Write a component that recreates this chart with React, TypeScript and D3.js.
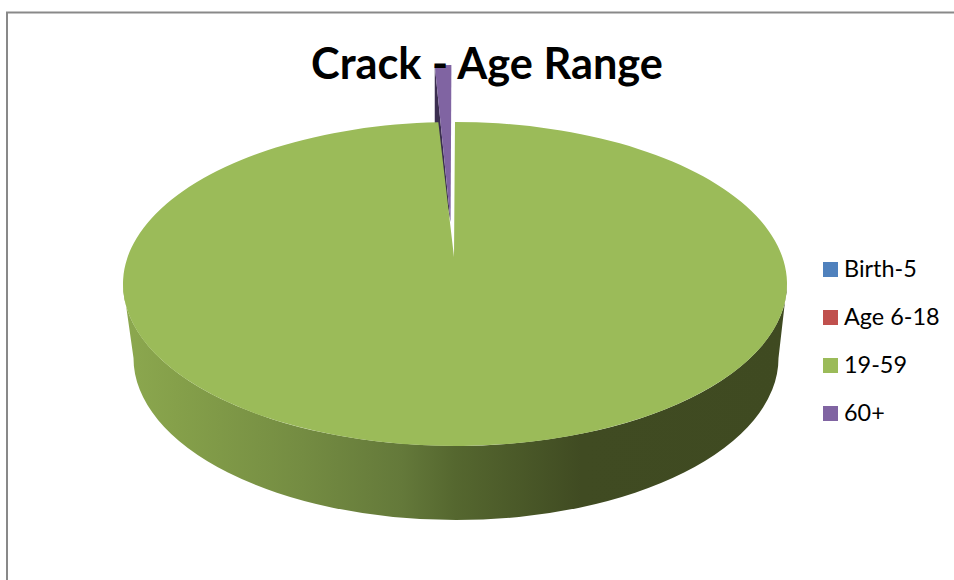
import React from "react";
import * as d3 from "d3";

const categories = ["Birth-5", "Age 6-18", "19-59", "60+"];
const values = [0, 0, 99.2, 0.8];
const colors = ["#4f81bd", "#c0504d", "#9bbb59", "#8064a2"];
const wallStops: [number, string][] = [
  [0, "#8ca84f"],
  [0.08, "#85a04a"],
  [0.27, "#748c42"],
  [0.42, "#64793a"],
  [0.5, "#55672f"],
  [0.69, "#404b22"],
  [1, "#3f4a21"],
];

const W = 954;
const H = 580;
const cx = 455;
const cy = 284;
const rx = 332;
const ry = 162;
const apex: [number, number] = [454, 257];
const bottomCx = 456;
const bottomCy = 358;
const bottomRx = 322.5;
const purpleDx = -3.6;
const purpleDy = -57;
const purpleApex: [number, number] = [450.6, 222];
const wallDepth = 74;
const legendX = 823;
const legendY = d3.scaleLinear().domain([0, 3]).range([262, 406]);

const pt = (a: number, dx = 0, dy = 0): [number, number] => [
  cx + rx * Math.sin(a) + dx,
  cy - ry * Math.cos(a) + dy,
];

export default function App() {
  const arcs = d3
    .pie<number>()
    .sort(null)
    .startAngle(0)
    .endAngle(2 * Math.PI)(values);
  const green = arcs[2];
  const purple = arcs[3];

  const g0 = pt(green.startAngle);
  const g1 = pt(green.endAngle);
  const greenPath = `M${apex[0]},${apex[1]}L${g0[0]},${g0[1]}A${rx},${ry} 0 1 1 ${g1[0]},${g1[1]}Z`;
  const sidePath = `M${cx - rx},${cy}L${bottomCx - bottomRx},${bottomCy}A${bottomRx},${ry} 0 0 0 ${bottomCx + bottomRx},${bottomCy}L${cx + rx},${cy}A${rx},${ry} 0 0 1 ${cx - rx},${cy}Z`;

  const p0 = pt(purple.startAngle, purpleDx, purpleDy);
  const p1 = pt(purple.endAngle, purpleDx, purpleDy);
  const purpleTop = `M${purpleApex[0]},${purpleApex[1]}L${p0[0]},${p0[1]}A${rx},${ry} 0 0 1 ${p1[0]},${p1[1]}Z`;
  const purpleWall = `M${p0[0]},${p0[1]}L${purpleApex[0]},${purpleApex[1]}L${p0[0]},${p0[1] + wallDepth}Z`;

  return (
    <svg
      width={W}
      height={H}
      viewBox={`0 0 ${W} ${H}`}
      style={{ position: "absolute", left: 0, top: 0, background: "#fff" }}
    >
      <defs>
        <linearGradient id="wall" gradientUnits="userSpaceOnUse" x1={cx - rx} x2={cx + rx} y1={0} y2={0}>
          {wallStops.map(([o, c]) => (
            <stop key={o} offset={o} stopColor={c} />
          ))}
        </linearGradient>
      </defs>
      <path d={`M7,${H}V12.5H${W}`} fill="none" stroke="#898989" strokeWidth={2} />
      <path d={purpleWall} fill="#3b2e50" />
      <path d={purpleTop} fill={colors[3]} />
      <path d={sidePath} fill="url(#wall)" />
      <path d={greenPath} fill={colors[2]} />
      <text
        x={487}
        y={79}
        textAnchor="middle"
        fontFamily="Lato, sans-serif"
        fontWeight={700}
        fontSize={43.3}
        fill="#000"
      >
        Crack - Age Range
      </text>
      {categories.map((c, i) => (
        <g key={c}>
          <rect x={legendX} y={legendY(i)} width={15} height={15} fill={colors[i]} />
          <text
            x={844}
            y={legendY(i) + 15}
            fontFamily="Lato, sans-serif"
            fontSize={23.4}
            fill="#000"
          >
            {c}
          </text>
        </g>
      ))}
    </svg>
  );
}
